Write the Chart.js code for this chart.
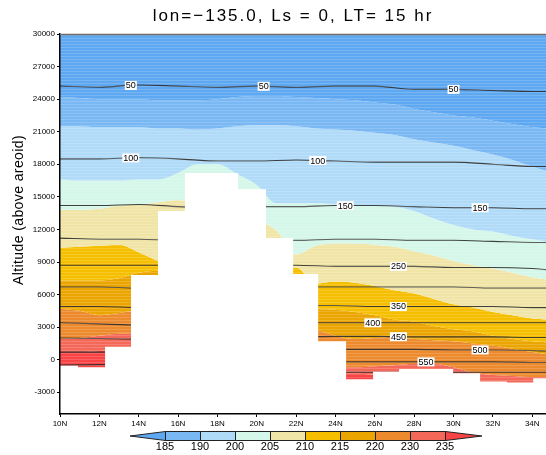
<!DOCTYPE html>
<html>
<head>
<meta charset="utf-8">
<title>Temperature cross-section</title>
<script src="https://cdn.jsdelivr.net/npm/chart.js@4.4.1/dist/chart.umd.min.js"></script>
<style>
  html, body { margin: 0; padding: 0; background: #fff; }
</style>
</head>
<body>
<canvas id="xsec" width="546" height="455"></canvas>
<script>
// latitude nodes (deg N) of the isotherm outlines
var lats = [10, 11, 12, 13, 14, 15, 16, 17, 18, 19, 20, 21, 22, 23, 24, 25, 26, 27, 28, 29, 30, 31, 32, 33, 34, 34.7];

// altitude (m) of each isotherm along lats
var t185 = [24200, 24100, 24000, 24000, 24000, 23900, 23900, 23900, 24000, 24200, 24300, 24300, 24200, 24100, 24000, 23900, 23700, 23500, 23100, 22800, 22500, 22300, 22000, 21700, 21400, 21300];
var t190 = [21500, 21500, 21400, 21400, 21400, 21300, 21300, 21200, 21300, 21500, 21600, 21600, 21500, 21300, 21200, 21100, 20900, 20700, 20300, 20000, 19700, 19300, 18900, 18400, 17800, 17400];
var t200 = [16600, 16500, 16500, 16500, 16600, 16600, 17200, 18000, 18000, 17100, 16100, 14400, 14400, 14400, 14300, 14200, 14200, 14100, 13700, 13000, 12400, 12000, 11800, 11400, 11100, 10900];
var t205 = [13800, 13800, 13900, 14200, 14300, 14500, 14700, 14300, 13700, 13100, 12800, 11900, 9700, 10500, 10700, 10700, 10600, 10400, 10000, 9600, 9100, 8700, 8400, 8000, 7600, 7400];
var t210 = [10300, 10400, 10500, 10600, 9900, 9100, 8500, 8200, 8000, 8000, 8100, 8400, 8500, 7000, 7200, 7100, 6800, 6400, 6100, 5600, 5100, 4800, 4400, 4100, 3800, 3700];
var t215 = [7300, 7300, 7300, 7500, 8000, 8200, 7400, 7000, 6500, 6100, 5600, 5300, 5000, 4700, 4600, 4400, 4100, 3700, 3500, 3100, 2800, 2600, 2200, 1900, 1700, 1600];
var t220 = [4700, 4500, 4100, 4300, 4500, 4200, 4000, 3800, 3600, 3400, 3300, 3200, 3000, 2800, 2200, 1900, 2000, 2100, 1900, 1800, 1700, 1500, 1300, 1000, 700, 500];
var t230 = [1900, 2000, 2200, 2400, 2400, 2200, 2000, 1800, 1600, 1400, 1200, 900, 500, -100, -700, -700, -600, -500, -400, -400, -700, -1200, -1400, -1500, -1600, -1600];
var t235 = [700, 700, 800, 900, 900, 800, 600, 400, 200, 0, -200, -400, -700, -1000, -1300, -1300, -1400, -1600, -1800, -1800, -1900, -2200, -2500, -2700, -2700, -2700];

var isoLevels = [185, 190, 200, 205, 210, 215, 220, 230, 235];
var isoAlt = [t185, t190, t200, t205, t210, t215, t220, t230, t235];
var bandColors = ['#5ea7f1', '#7ab8f4', '#b0dbf8', '#d5f7ea', '#f0e5a7', '#f5bf00', '#eba500', '#ed8a2d', '#f36859', '#f84444'];

// pressure contours (Pa)
var cLats = [10, 12, 14, 16, 18, 20, 22, 24, 26, 28, 30, 32, 34, 34.7];
var pLevels = [50, 100, 150, 200, 250, 300, 350, 400, 450, 500, 550, 600];
var pAlt = [
  [25200, 25100, 25300, 25200, 25100, 25200, 25100, 25200, 25200, 24900, 24900, 24800, 24700, 24700],
  [18500, 18500, 18600, 18500, 18300, 18300, 18400, 18300, 18200, 18200, 18200, 18000, 17800, 17800],
  [14200, 14200, 14300, 14100, 14000, 14100, 14100, 14200, 14200, 14100, 14000, 14000, 13900, 13900],
  [11200, 11100, 11100, 11000, 11000, 11000, 11000, 11100, 11100, 11000, 11000, 10900, 10800, 10800],
  [8700, 8700, 8700, 8700, 8700, 8700, 8700, 8600, 8600, 8600, 8500, 8500, 8400, 8300],
  [6700, 6700, 6600, 6600, 6600, 6700, 6700, 6700, 6700, 6700, 6700, 6600, 6600, 6600],
  [4900, 4900, 4800, 4800, 4900, 4900, 5000, 5000, 4900, 4900, 4900, 4900, 4800, 4800],
  [3400, 3300, 3200, 3300, 3400, 3400, 3400, 3400, 3400, 3400, 3400, 3400, 3400, 3400],
  [2000, 1950, 1900, 2000, 2100, 2100, 2100, 2150, 2150, 2100, 2100, 2100, 2050, 2050],
  [700, 700, 750, 800, 900, 950, 950, 950, 950, 950, 900, 900, 850, 800],
  [-500, -450, -400, -300, -250, -200, -200, -200, -200, -200, -200, -200, -250, -250],
  [-1300, -1250, -1200, -1200, -1200, -1150, -1150, -1150, -1150, -1150, -1150, -1150, -1150, -1150]
];
// where the contour values are written
var labelLevels = [50, 50, 50, 100, 100, 150, 150, 250, 350, 400, 450, 500, 550];
var labelLats = [13.6, 20.35, 30, 13.6, 23.1, 24.5, 31.35, 27.2, 27.2, 25.9, 27.2, 31.35, 28.6];

// surface height per grid cell (left edge lat, altitude m)
var surfLat = [10, 10.92, 12.29, 13.61, 14.98, 16.35, 19.05, 20.47, 21.85, 23.12, 24.54, 25.91, 27.23, 29.98, 31.35, 32.72, 34.05, 34.7];
var surfAlt = [-550, -700, 1200, 7800, 13700, 17200, 15700, 11200, 7900, 1700, -1800, -1100, -850, -1250, -2000, -2100, -1700, -1700];

// axis ticks
var xTicks = [10, 12, 14, 16, 18, 20, 22, 24, 26, 28, 30, 32, 34];
var yTicks = [-3000, 0, 3000, 6000, 9000, 12000, 15000, 18000, 21000, 24000, 27000, 30000];

var yMin = -5000, yMax = 30000;
var latMin = 10, latMax = 34.7;

function pts(xs, ys) {
    return xs.map(function (x, i) { return { x: x, y: ys[i] }; });
}

function flat(v) {
    return lats.map(function () { return v; });
}

var datasets = [];
// terrain mask, drawn above everything else
datasets.push({
    data: pts(surfLat, surfAlt),
    stepped: true,
    fill: 'start',
    backgroundColor: '#ffffff',
    borderWidth: 0,
    pointRadius: 0,
    order: 0
});
pLevels.forEach(function (p, k) {
    datasets.push({
        data: pts(cLats, pAlt[k]),
        borderColor: 'rgba(45,45,45,0.9)',
        borderWidth: 1.1,
        pointRadius: 0,
        fill: false,
        cubicInterpolationMode: 'monotone',
        order: 1
    });
});
// shaded temperature bands between consecutive isotherms
datasets.push({ data: pts(lats, flat(yMax)), borderWidth: 0, pointRadius: 0, fill: false, order: 2 });
isoAlt.forEach(function (arr, k) {
    datasets.push({
        data: pts(lats, arr),
        borderWidth: 0,
        pointRadius: 0,
        fill: '-1',
        backgroundColor: bandColors[k],
        cubicInterpolationMode: 'monotone',
        order: 2
    });
});
datasets.push({ data: pts(lats, flat(yMin)), borderWidth: 0, pointRadius: 0, fill: '-1', backgroundColor: bandColors[9], order: 2 });

function altAt(k, lat) {
    var a = pAlt[k];
    for (var i = 0; i < cLats.length - 1; i++) {
        if (lat <= cLats[i + 1]) {
            var f = (lat - cLats[i]) / (cLats[i + 1] - cLats[i]);
            return a[i] + f * (a[i + 1] - a[i]);
        }
    }
    return a[a.length - 1];
}

var decor = {
    id: 'decor',
    afterDatasetsDraw: function (chart) {
        var ctx = chart.ctx, area = chart.chartArea;
        var xs = chart.scales.x, ys = chart.scales.y;
        ctx.save();
        ctx.beginPath();
        ctx.rect(area.left, area.top, area.right - area.left, area.bottom - area.top);
        ctx.clip();
        // light scan lines through the shading
        ctx.fillStyle = 'rgba(255,255,255,0.16)';
        for (var y = area.top + 1; y < area.bottom; y += 3) {
            ctx.fillRect(area.left, y, area.right - area.left, 1);
        }
        // contour value boxes
        ctx.font = '9px "Liberation Sans"';
        ctx.textAlign = 'center';
        ctx.textBaseline = 'middle';
        labelLevels.forEach(function (p, i) {
            var k = pLevels.indexOf(p);
            var px = xs.getPixelForValue(labelLats[i]);
            var py = ys.getPixelForValue(altAt(k, labelLats[i]));
            var txt = String(p);
            var w = ctx.measureText(txt).width + 2;
            ctx.fillStyle = '#fff';
            ctx.fillRect(px - w / 2, py - 4.5, w, 9);
            ctx.fillStyle = '#000';
            ctx.fillText(txt, px, py + 0.5);
        });
        ctx.restore();
    },
    afterDraw: function (chart) {
        var ctx = chart.ctx, area = chart.chartArea;
        ctx.save();
        // top frame edge
        ctx.strokeStyle = '#6e6e6e';
        ctx.lineWidth = 1.5;
        ctx.beginPath();
        ctx.moveTo(area.left, area.top + 0.5);
        ctx.lineTo(area.right, area.top + 0.5);
        ctx.stroke();

        ctx.fillStyle = '#000';
        ctx.textAlign = 'center';
        ctx.textBaseline = 'middle';
        ctx.font = '17px "Liberation Sans"';
        ctx.letterSpacing = '2px';
        ctx.fillText('lon=\u2212135.0, Ls = 0, LT= 15 hr', 293, 16);
        ctx.letterSpacing = '0.4px';
        ctx.font = '14px "Liberation Sans"';
        ctx.translate(19, 210);
        ctx.rotate(-Math.PI / 2);
        ctx.fillText('Altitude (above areoid)', 0, 0);
        ctx.restore();

        // colour key
        ctx.save();
        var x0 = 165, bw = 35, top = 431, h = 9, mid = top + h / 2;
        ctx.lineWidth = 1;
        ctx.strokeStyle = '#222';
        for (var i = 0; i < isoLevels.length - 1; i++) {
            ctx.fillStyle = bandColors[i + 1];
            ctx.fillRect(x0 + i * bw, top, bw, h);
            ctx.strokeRect(x0 + i * bw + 0.5, top + 0.5, bw, h);
        }
        var xEnd = x0 + (isoLevels.length - 1) * bw;
        ctx.fillStyle = bandColors[0];
        ctx.beginPath();
        ctx.moveTo(x0 + 0.5, top + 0.5);
        ctx.lineTo(x0 - bw, mid + 0.5);
        ctx.lineTo(x0 + 0.5, top + h + 0.5);
        ctx.closePath();
        ctx.fill();
        ctx.stroke();
        ctx.fillStyle = bandColors[9];
        ctx.beginPath();
        ctx.moveTo(xEnd + 0.5, top + 0.5);
        ctx.lineTo(xEnd + bw + 2, mid + 0.5);
        ctx.lineTo(xEnd + 0.5, top + h + 0.5);
        ctx.closePath();
        ctx.fill();
        ctx.stroke();
        ctx.fillStyle = '#000';
        ctx.font = '11px "Liberation Sans"';
        ctx.textAlign = 'center';
        ctx.textBaseline = 'middle';
        isoLevels.forEach(function (lv, i) {
            ctx.fillText(String(lv), x0 + i * bw, 447);
        });
        ctx.restore();
    }
};

var tickFont = { family: 'Liberation Sans', size: 8 };

new Chart(document.getElementById('xsec'), {
    type: 'line',
    data: { datasets: datasets },
    options: {
        responsive: false,
        animation: false,
        devicePixelRatio: 1,
        events: [],
        layout: { padding: { top: 34, left: 0, right: 0, bottom: 0 } },
        plugins: {
            legend: { display: false },
            tooltip: { enabled: false },
            filler: { propagate: false }
        },
        scales: {
            x: {
                type: 'linear',
                min: latMin,
                max: latMax,
                afterFit: function (s) { s.height = 41; },
                afterBuildTicks: function (s) {
                    s.ticks = xTicks.map(function (v) { return { value: v }; });
                },
                ticks: {
                    autoSkip: false,
                    maxRotation: 0,
                    padding: 2,
                    color: '#000',
                    font: tickFont,
                    callback: function (v) { return v + 'N'; }
                },
                grid: { drawOnChartArea: false, tickLength: 3, color: '#000' },
                border: { color: '#000', width: 1.5, z: 1 }
            },
            y: {
                type: 'linear',
                min: yMin,
                max: yMax,
                afterFit: function (s) { s.width = 60; },
                afterBuildTicks: function (s) {
                    s.ticks = yTicks.map(function (v) { return { value: v }; });
                },
                ticks: {
                    autoSkip: false,
                    padding: 2,
                    color: '#000',
                    font: tickFont,
                    callback: function (v) { return String(v); }
                },
                grid: { drawOnChartArea: false, tickLength: 3, color: '#000' },
                border: { color: '#000', width: 1.5, z: 1 }
            }
        }
    },
    plugins: [decor]
});
</script>
</body>
</html>
